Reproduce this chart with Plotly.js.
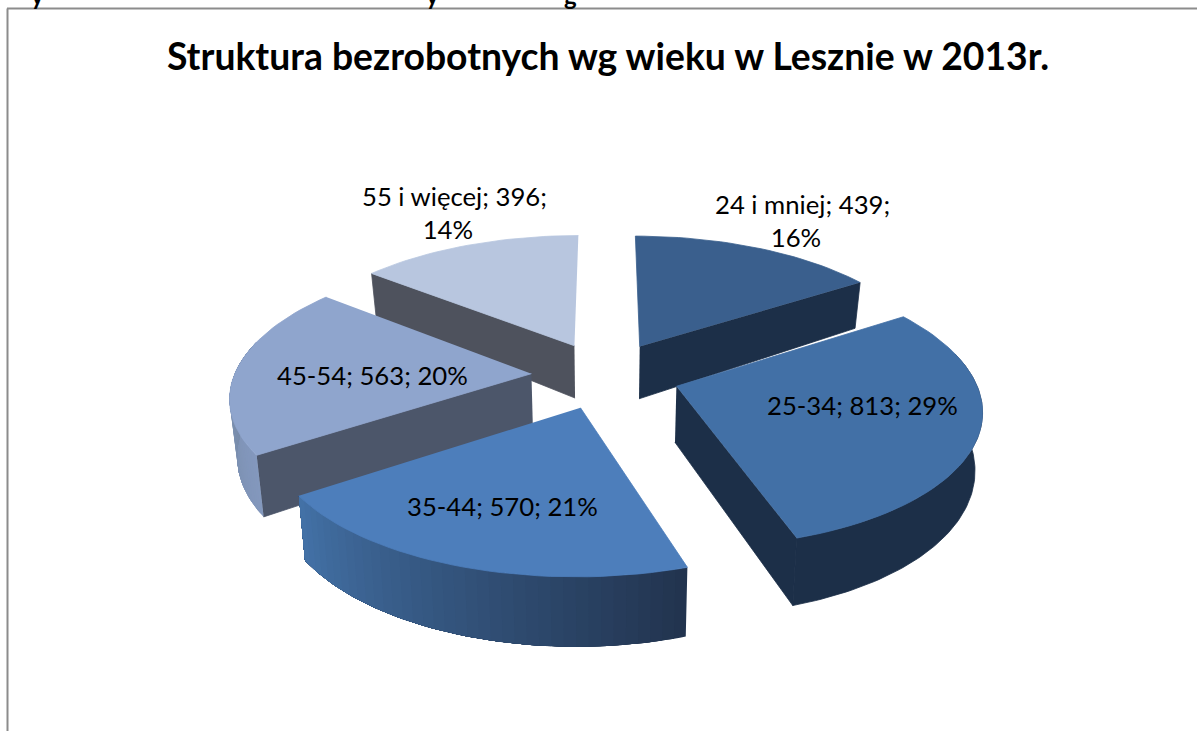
<!DOCTYPE html>
<html><head><meta charset="utf-8">
<script src="https://cdn.plot.ly/plotly-3.0.1.min.js"></script>
<style>html,body{margin:0;padding:0;background:#fff;overflow:hidden}#c{width:1197px;height:731px}</style>
</head><body><div id="c"></div>
<script>
var titleText = "Struktura bezrobotnych wg wieku w Lesznie w 2013r.";
var categories = ["24 i mniej", "25-34", "35-44", "45-54", "55 i więcej"];
var values = [439, 813, 570, 563, 396];
var percents = ["16%", "29%", "21%", "20%", "14%"];
var topColors = ["#3A5F8D", "#4270A6", "#4D7EBB", "#8FA5CD", "#B8C6DF"];
var wallColors = ["#1C2F48", "#1C2F48", "#1C2F48", "#4C566A", "#4E525D"];
var arcFrom = ["#1C2F48", "#1C2F48", "#4371A6", "#8398BD", "#8398BD"];
var arcTo = ["#1C2F48", "#1C2F48", "#22344F", "#71859F", "#71859F"];
var drawOrder = [4, 0, 3, 1, 2];

// view of the exploded, tilted pie
var CX = 605.5, CY = 375, RX = 297, RY = 134, PX = 0.15, PY = 0.145, EXPLODE = 0.25;
function proj(u, v, down) {
  var sx = 1 / (1 + PX * v), sy = 1 / (1 + PY * v);
  var d = down ? (55 - 12 * v) : 0;
  var conv = down ? 0.98 : 1;
  return [CX + RX * u * sx * conv, CY - RY * v * sy + d];
}
function rad(a) { return a * Math.PI / 180; }
function hex(c) { return [1, 3, 5].map(function (i) { return parseInt(c.substr(i, 2), 16); }); }
function mix(a, b, t) {
  var x = hex(a), y = hex(b);
  return "rgb(" + x.map(function (n, i) { return Math.round(n + (y[i] - n) * t); }).join(",") + ")";
}
var total = values.reduce(function (a, b) { return a + b; }, 0);
var traces = [];
function poly(pts, color, width) {
  traces.push({
    type: "scatter", mode: "lines", fill: "toself", fillcolor: color,
    x: pts.map(function (p) { return p[0]; }), y: pts.map(function (p) { return p[1]; }),
    line: { color: color, width: width }, hoverinfo: "skip", showlegend: false
  });
}
var starts = [], acc = 0;
values.forEach(function (v) { starts.push(acc); acc += v / total * 360; });

drawOrder.forEach(function (i) {
  var a0 = starts[i], a1 = a0 + values[i] / total * 360, mid = (a0 + a1) / 2;
  var ox = EXPLODE * Math.sin(rad(mid)), oy = EXPLODE * Math.cos(rad(mid));
  function rim(a) { return [ox + Math.sin(rad(a)), oy + Math.cos(rad(a))]; }
  function wall(a, normal) {
    if (Math.cos(rad(normal)) >= -0.02) return;
    var r = rim(a);
    poly([proj(ox, oy), proj(r[0], r[1]), proj(r[0], r[1], true), proj(ox, oy, true)], wallColors[i], 0.8);
  }
  wall(a0, a0 - 90);
  wall(a1, a1 + 90);
  var n = Math.ceil((a1 - a0) / 2), topPts = [proj(ox, oy)], k;
  for (k = 0; k <= n; k++) {
    var r = rim(a0 + (a1 - a0) * k / n);
    topPts.push(proj(r[0], r[1]));
  }
  // outer wall: each band runs on to the wall's far end, so bands overlap with no seams
  var shaded = arcFrom[i] !== arcTo[i];
  var lastVisible = a1;
  while (Math.cos(rad(lastVisible)) >= 0.25 && lastVisible > a0) lastVisible -= 0.5;
  var firstVisible = a0;
  while (Math.cos(rad(firstVisible)) >= 0.25 && firstVisible < a1) firstVisible += 0.5;
  if (firstVisible < lastVisible) {
    var bands = shaded ? n : 1;
    for (k = 0; k < bands; k++) {
      var b0 = firstVisible + (lastVisible - firstVisible) * k / bands;
      var front = [], back = [];
      for (var a = b0; a <= lastVisible + 1e-6; a += 1) {
        var q = rim(a);
        front.push(proj(q[0], q[1]));
        back.unshift(proj(q[0], q[1], true));
      }
      var qe = rim(lastVisible);
      front.push(proj(qe[0], qe[1]));
      back.unshift(proj(qe[0], qe[1], true));
      var t = bands === 1 ? 0 : k / (bands - 1);
      // band order follows the angle; the shading runs from the slice's left edge to its right
      if (i === 2) t = 1 - t;
      poly(front.concat(back), mix(arcFrom[i], arcTo[i], t), shaded ? 0 : 0.8);
    }
  }
  poly(topPts, topColors[i], 0.8);
});

var labelFont = { family: "Lato, sans-serif", size: 25.7, color: "#000" };
function lab(i, x, y, brk) {
  return { x: x, y: y, xref: "x", yref: "y", showarrow: false, font: labelFont, align: "center",
    text: categories[i] + "; " + values[i] + ";" + (brk ? "<br>" + percents[i] + "\u00A0\u00A0" : " " + percents[i]) };
}
function frag(x, t) {
  return { x: x, y: 1, xref: "x", yref: "paper", yanchor: "bottom", yshift: -12, showarrow: false, text: t,
    font: { family: "Lato, sans-serif", size: 24, color: "#000", weight: 700 } };
}
var annotations = [
  lab(0, 802, 220, true), lab(1, 862.5, 405, false), lab(2, 502.5, 506, false),
  lab(3, 372.5, 375, false), lab(4, 454, 212, true),
  frag(37, "y"), frag(432, "y"), frag(570, "g")
];
var shapes = [
  { type: "line", xref: "x", yref: "y", x0: 7.5, x1: 7.5, y0: 8.5, y1: 731, line: { color: "#8C8C8C", width: 2 } },
  { type: "line", xref: "x", yref: "y", x0: 7, x1: 1197, y0: 8.5, y1: 8.5, line: { color: "#8C8C8C", width: 2 } }
];
var layout = {
  width: 1197, height: 731, margin: { l: 0, r: 0, t: 0, b: 0 },
  paper_bgcolor: "#fff", plot_bgcolor: "#fff", showlegend: false,
  title: { text: titleText, x: 608 / 1197, xanchor: "center", y: 1 - 57 / 731, yanchor: "middle",
    font: { family: "Lato, sans-serif", size: 37.3, color: "#000", weight: 700 } },
  xaxis: { range: [0, 1197], visible: false, fixedrange: true },
  yaxis: { range: [731, 0], visible: false, fixedrange: true },
  annotations: annotations, shapes: shapes
};
Plotly.newPlot("c", traces, layout, { displayModeBar: false, staticPlot: true });
</script></body></html>
